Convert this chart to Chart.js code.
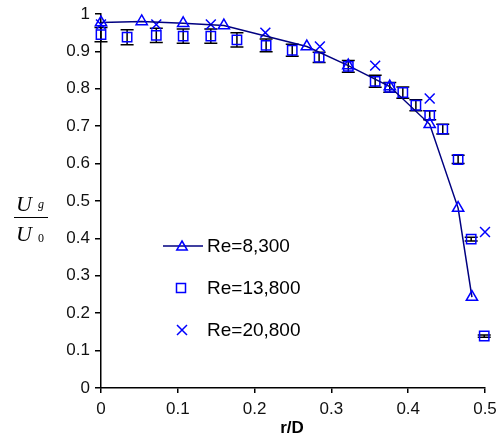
<!DOCTYPE html>
<html><head><meta charset="utf-8">
<script src="https://cdn.jsdelivr.net/npm/chart.js@4.4.1/dist/chart.umd.min.js"></script>
<style>html,body{margin:0;padding:0;background:#fff;}#wrap{width:497px;height:446px;position:relative;}</style>
</head><body><div id="wrap"><canvas id="c" width="497" height="446"></canvas></div>
<script>
// ---- data ----
const seriesLabels = ["Re=8,300", "Re=13,800", "Re=20,800"];
const xTickValues = [0, 0.1, 0.2, 0.3, 0.4, 0.5];
const yTickValues = [0, 0.1, 0.2, 0.3, 0.4, 0.5, 0.6, 0.7, 0.8, 0.9, 1];
const rd8300  = [0, 0.053, 0.107, 0.160, 0.268, 0.322, 0.376, 0.428, 0.465, 0.483];
const u8300   = [0.977, 0.980, 0.975, 0.969, 0.913, 0.862, 0.806, 0.705, 0.481, 0.243];
const rd13800 = [0, 0.034, 0.072, 0.107, 0.143, 0.177, 0.215, 0.249, 0.284, 0.322, 0.357, 0.376, 0.393, 0.410, 0.428, 0.445, 0.465, 0.482, 0.499];
const u13800  = [0.945, 0.938, 0.943, 0.941, 0.941, 0.931, 0.916, 0.903, 0.884, 0.860, 0.820, 0.804, 0.790, 0.756, 0.729, 0.692, 0.611, 0.398, 0.139];
const err13800= [0.019, 0.020, 0.019, 0.019, 0.019, 0.019, 0.017, 0.016, 0.014, 0.016, 0.016, 0.013, 0.015, 0.015, 0.012, 0.013, 0.011, 0.005, 0.003];
const rd20800 = [0, 0.072, 0.143, 0.214, 0.285, 0.357, 0.428, 0.5];
const u20800  = [0.972, 0.972, 0.972, 0.950, 0.913, 0.862, 0.774, 0.417];

const toPts = (xs, ys) => xs.map((x, i) => ({x: x, y: ys[i]}));
const BLUE = '#0000ff', NAVY = '#000080';
const TICK_FONT = '"Liberation Sans", Arial, sans-serif';

function tri(ctx, x, y, r){ ctx.beginPath(); ctx.moveTo(x, y - r); ctx.lineTo(x + r*0.87, y + r*0.5); ctx.lineTo(x - r*0.87, y + r*0.5); ctx.closePath(); ctx.stroke(); }
function sq(ctx, x, y, h){ ctx.strokeRect(x - h, y - h, 2*h, 2*h); }
function cross(ctx, x, y, h){ ctx.beginPath(); ctx.moveTo(x-h,y-h); ctx.lineTo(x+h,y+h); ctx.moveTo(x+h,y-h); ctx.lineTo(x-h,y+h); ctx.stroke(); }

const errorBars = {
  id: 'errorBars',
  beforeDatasetsDraw(chart){
    const ctx = chart.ctx, xs = chart.scales.x, ys = chart.scales.y;
    ctx.save(); ctx.strokeStyle = '#000'; ctx.lineWidth = 1.5;
    rd13800.forEach((r, i) => {
      const x = xs.getPixelForValue(r);
      const yt = ys.getPixelForValue(u13800[i] + err13800[i]);
      const yb = ys.getPixelForValue(u13800[i] - err13800[i]);
      ctx.beginPath();
      ctx.moveTo(x, yt); ctx.lineTo(x, yb);
      ctx.moveTo(x - 6.5, yt); ctx.lineTo(x + 6.5, yt);
      ctx.moveTo(x - 6.5, yb); ctx.lineTo(x + 6.5, yb);
      ctx.stroke();
    });
    ctx.restore();
  }
};

const extras = {
  id: 'extras',
  afterDraw(chart){
    const ctx = chart.ctx;
    ctx.save();
    // legend
    ctx.lineWidth = 1.5;
    ctx.strokeStyle = NAVY;
    ctx.beginPath(); ctx.moveTo(163, 246); ctx.lineTo(203, 246); ctx.stroke();
    ctx.strokeStyle = BLUE;
    tri(ctx, 182, 247, 6);
    sq(ctx, 181, 288, 4.5);
    cross(ctx, 182, 330, 5);
    ctx.fillStyle = '#000';
    ctx.font = '19px ' + TICK_FONT;
    ctx.textBaseline = 'middle'; ctx.textAlign = 'left';
    ctx.fillText(seriesLabels[0], 207, 247);
    ctx.fillText(seriesLabels[1], 207, 289);
    ctx.fillText(seriesLabels[2], 207, 331);
    // x title
    ctx.font = 'bold 17px ' + TICK_FONT;
    ctx.textAlign = 'center'; ctx.textBaseline = 'alphabetic';
    ctx.fillText('r/D', 292, 433);
    // y title (fraction)
    ctx.textAlign = 'left';
    ctx.font = 'italic 22px "Liberation Serif", "Times New Roman", serif';
    ctx.fillText('U', 16, 211);
    ctx.fillText('U', 16, 241);
    ctx.font = 'italic 12px "Liberation Serif", "Times New Roman", serif';
    ctx.fillText('g', 38, 208);
    ctx.font = '12px "Liberation Serif", "Times New Roman", serif';
    ctx.fillText('0', 38, 242);
    ctx.strokeStyle = '#000'; ctx.lineWidth = 1;
    ctx.beginPath(); ctx.moveTo(14, 217.5); ctx.lineTo(48, 217.5); ctx.stroke();
    ctx.restore();
  }
};

new Chart(document.getElementById('c'), {
  type: 'scatter',
  data: {
    datasets: [
      { label: seriesLabels[0], data: toPts(rd8300, u8300), showLine: true, borderColor: NAVY, borderWidth: 1.5,
        pointStyle: 'triangle', pointRadius: 6.5, pointBorderColor: BLUE, pointBackgroundColor: 'rgba(0,0,0,0)', pointBorderWidth: 1.5, clip: false, order: 1 },
      { label: seriesLabels[1], data: toPts(rd13800, u13800), showLine: false,
        pointStyle: 'rect', pointRadius: 6.6, pointBorderColor: BLUE, pointBackgroundColor: 'rgba(0,0,0,0)', pointBorderWidth: 1.5, clip: false, order: 2 },
      { label: seriesLabels[2], data: toPts(rd20800, u20800), showLine: false,
        pointStyle: 'crossRot', pointRadius: 7, pointBorderColor: BLUE, pointBorderWidth: 1.5, clip: false, order: 3 }
    ]
  },
  options: {
    responsive: false, animation: false, devicePixelRatio: 1,
    layout: { padding: { top: 14, right: 12, left: 0, bottom: 0 } },
    plugins: { legend: { display: false }, tooltip: { enabled: false } },
    scales: {
      x: {
        type: 'linear', min: 0, max: 0.5,
        afterBuildTicks: s => { s.ticks = xTickValues.map(v => ({value: v})); },
        afterFit: s => { s.height = 58; s.paddingLeft = 0; s.paddingRight = 0; },
        grid: { drawOnChartArea: false, drawTicks: true, tickLength: 5, color: '#000', lineWidth: 1.5 },
        border: { display: true, color: '#000', width: 1.5 },
        ticks: { color: '#111', font: { family: TICK_FONT, size: 17 }, padding: 6, maxRotation: 0,
                 callback: v => String(Number(v.toFixed(1))) }
      },
      y: {
        type: 'linear', min: 0, max: 1,
        afterBuildTicks: s => { s.ticks = yTickValues.map(v => ({value: v})); },
        afterFit: s => { s.width = 101; s.paddingTop = 0; s.paddingBottom = 0; },
        grid: { drawOnChartArea: false, drawTicks: true, tickLength: 6, color: '#000', lineWidth: 1.5 },
        border: { display: true, color: '#000', width: 1.5 },
        ticks: { color: '#111', font: { family: TICK_FONT, size: 17 }, padding: 5,
                 callback: v => String(Number(v.toFixed(1))) }
      }
    }
  },
  plugins: [errorBars, extras]
});
</script></body></html>
